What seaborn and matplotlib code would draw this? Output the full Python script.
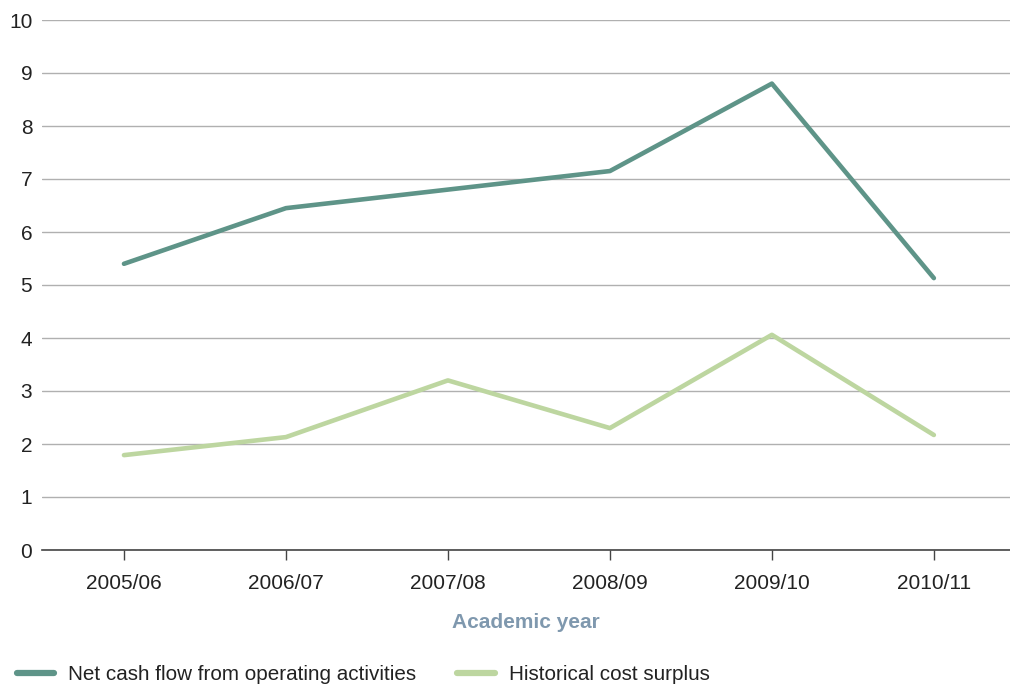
import matplotlib
matplotlib.use("Agg")
import matplotlib.pyplot as plt
import seaborn as sns
import pandas as pd
from matplotlib.lines import Line2D

years = ["2005/06", "2006/07", "2007/08", "2008/09", "2009/10", "2010/11"]
net_cash_flow = [5.40, 6.45, 6.80, 7.15, 8.80, 5.13]
historical_surplus = [1.79, 2.13, 3.20, 2.30, 4.06, 2.17]
series_names = ["Net cash flow from operating activities", "Historical cost surplus"]
colors = ["#5E9488", "#BDD6A0"]

sns.set_theme(style="white")
plt.rcParams['font.family'] = ['Liberation Sans', 'DejaVu Sans']

df = pd.DataFrame({
    "year": years * 2,
    "x": list(range(len(years))) * 2,
    "value": net_cash_flow + historical_surplus,
    "series": [series_names[0]] * len(years) + [series_names[1]] * len(years),
})

fig = plt.figure(figsize=(10.10, 6.86), dpi=100)
ax = fig.add_axes([42 / 1010, 1 - 550 / 686, 1 - 42 / 1010, (550 - 20) / 686])

sns.lineplot(data=df, x="x", y="value", hue="series", palette=colors,
             linewidth=3.3, ax=ax, legend=False, zorder=3)

ax.set_ylim(0, 10)
ax.set_yticks(range(0, 11))
ax.set_xlim(-0.506, 5.47)
ax.set_xticks(range(len(years)))
ax.set_xticklabels(years)
ax.yaxis.grid(True, color="#b0b0b0", linewidth=1)
ax.xaxis.grid(False)
for s in ["top", "right", "left"]:
    ax.spines[s].set_visible(False)
ax.spines["bottom"].set_color("#444444")
ax.spines["bottom"].set_linewidth(1.2)
ax.tick_params(axis="x", direction="out", length=7, width=1, color="#444444",
               labelsize=15, labelcolor="#222222", pad=10, bottom=True)
ax.tick_params(axis="y", length=0, labelsize=15, labelcolor="#222222", pad=7)
ax.set_xlabel("Academic year", fontsize=15, fontweight="bold", color="#7F98AE", labelpad=15)
ax.set_ylabel("")

handles = [Line2D([0], [0], color=c, linewidth=4.5) for c in colors]
fig.legend(handles, series_names, loc="lower left", bbox_to_anchor=(-0.002, -0.024),
           ncol=2, frameon=False, fontsize=14.85, handlelength=1.8,
           handletextpad=0.7, columnspacing=2.0, labelcolor="#222222",
           borderaxespad=0.5)

fig.savefig("out.png", dpi=100)
